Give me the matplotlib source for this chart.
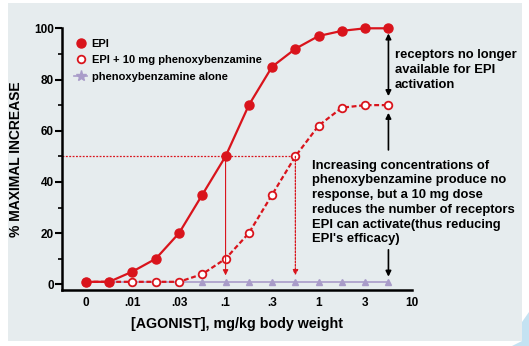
import matplotlib
matplotlib.use("Agg")
import matplotlib.pyplot as plt
from matplotlib.lines import Line2D
from matplotlib.patches import Rectangle, Polygon

plt.rcParams['font.family'] = ['Liberation Sans', 'DejaVu Sans']
plt.rcParams['font.weight'] = 'bold'

# dose steps (quarter-log), index 0 = no drug
dose_idx = list(range(14))
epi = [1, 1, 5, 10, 20, 35, 50, 70, 85, 92, 97, 99, 100, 100]
epi_pbz = [1, 1, 1, 1, 1, 4, 10, 20, 35, 50, 62, 69, 70, 70]
pbz_alone = [0.8] * 14

tick_pos = [0, 2, 4, 6, 8, 10, 12, 14]
tick_labels = ['0', '.01', '.03', '.1', '.3', '1', '3', '10']

RED = '#d9141c'
LAV = '#a99cc9'
BG = '#e6ecee'

fig = plt.figure(figsize=(5.29, 3.46), dpi=100)
fig.patch.set_facecolor('white')
fig.patches.append(Rectangle((8 / 529, 5 / 346), 514 / 529, 338 / 346,
                             transform=fig.transFigure, facecolor=BG,
                             edgecolor='none', zorder=-10))
fig.patches.append(Polygon([(522 / 529, 24 / 346), (529 / 529, 34 / 346),
                            (529 / 529, 0), (512 / 529, 0), (522 / 529, 5 / 346)],
                           closed=True, transform=fig.transFigure,
                           facecolor='#c4e2f2', edgecolor='none', zorder=-9))

ax = fig.add_axes([62 / 529, 56 / 346, 349.7 / 529, 261.7 / 346])
ax.set_facecolor('none')

ax.plot(dose_idx, pbz_alone, color=LAV, lw=1.2, marker='^', ms=5,
        mec=LAV, mfc=LAV, zorder=2, clip_on=False)
ax.plot(dose_idx, epi_pbz, color=RED, lw=1.6, ls=(0, (2.2, 1.2)), marker='o',
        ms=5.5, mfc='white', mec=RED, mew=1.3, zorder=3, clip_on=False)
ax.plot(dose_idx, epi, color=RED, lw=1.6, marker='o', ms=6.5,
        mfc=RED, mec=RED, zorder=4, clip_on=False)

# EC50 reference lines
ax.plot([-1.03, 9], [50, 50], color=RED, lw=0.9, ls=(0, (1.5, 1.2)), zorder=1)
ax.annotate('', xy=(6, 3.5), xytext=(6, 50),
            arrowprops=dict(arrowstyle='-|>', color=RED, lw=0.8,
                            mutation_scale=8, shrinkA=0, shrinkB=0))
ax.annotate('', xy=(9, 3.5), xytext=(9, 50),
            arrowprops=dict(arrowstyle='-|>', color=RED, lw=0.9, ls=(0, (1.5, 1.2)),
                            mutation_scale=8, shrinkA=0, shrinkB=0))

# black arrows
ax.annotate('', xy=(13, 73.5), xytext=(13, 98),
            arrowprops=dict(arrowstyle='<|-|>', color='black', lw=1.2,
                            mutation_scale=8, shrinkA=0, shrinkB=0))
ax.annotate('', xy=(13, 67), xytext=(13, 52.5),
            arrowprops=dict(arrowstyle='-|>', color='black', lw=1.2,
                            mutation_scale=8, shrinkA=0, shrinkB=0))
ax.annotate('', xy=(13, 3), xytext=(13, 13.5),
            arrowprops=dict(arrowstyle='-|>', color='black', lw=1.2,
                            mutation_scale=8, shrinkA=0, shrinkB=0))

ax.set_xlim(-1.03, 14)
ax.set_ylim(-2.2, 100)
for s in ['top', 'right']:
    ax.spines[s].set_visible(False)
ax.spines['left'].set_linewidth(1.8)
ax.spines['bottom'].set_linewidth(1.8)
ax.set_yticks([0, 20, 40, 60, 80, 100])
ax.set_yticks([10, 30, 50, 70, 90], minor=True)
ax.tick_params(axis='y', which='major', length=5, width=1.5, labelsize=8.5, pad=1)
ax.tick_params(axis='y', which='minor', length=3, width=1.2)
ax.set_xticks(tick_pos)
ax.set_xticklabels(tick_labels)
ax.tick_params(axis='x', length=0, labelsize=8.5, pad=5)
for lab in ax.get_xticklabels() + ax.get_yticklabels():
    lab.set_fontweight('bold')

ax.set_xlabel('[AGONIST], mg/kg body weight', fontsize=10.3, fontweight='bold', labelpad=6)
ax.set_ylabel('% MAXIMAL INCREASE', fontsize=10, fontweight='bold', labelpad=8)

handles = [Line2D([], [], color=RED, marker='o', ls='none', ms=6.5),
           Line2D([], [], color=RED, marker='o', ls='none', ms=5.5, mfc='white', mew=1.3),
           Line2D([], [], color=LAV, marker='*', ls='-', lw=1.2, ms=8)]
ax.legend(handles, ['EPI', 'EPI + 10 mg phenoxybenzamine', 'phenoxybenzamine alone'],
          loc='upper left', bbox_to_anchor=(0.015, 0.985), frameon=False,
          handlelength=1.2, handletextpad=0.4, labelspacing=0.58, borderaxespad=0.2,
          prop={'weight': 'bold', 'size': 8})

fig.text(395 / 529, 1 - 70 / 346, 'receptors no longer\navailable for EPI\nactivation',
         fontsize=9.4, fontweight='bold', va='center', ha='left', linespacing=1.3)
fig.text(312 / 529, 1 - 202.5 / 346,
         "Increasing concentrations of\nphenoxybenzamine produce no\n"
         "response, but a 10 mg dose\nreduces the number of receptors\n"
         "EPI can activate(thus reducing\nEPI's efficacy)",
         fontsize=9.4, fontweight='bold', va='center', ha='left', linespacing=1.3)

fig.savefig('out.png', dpi=100)
